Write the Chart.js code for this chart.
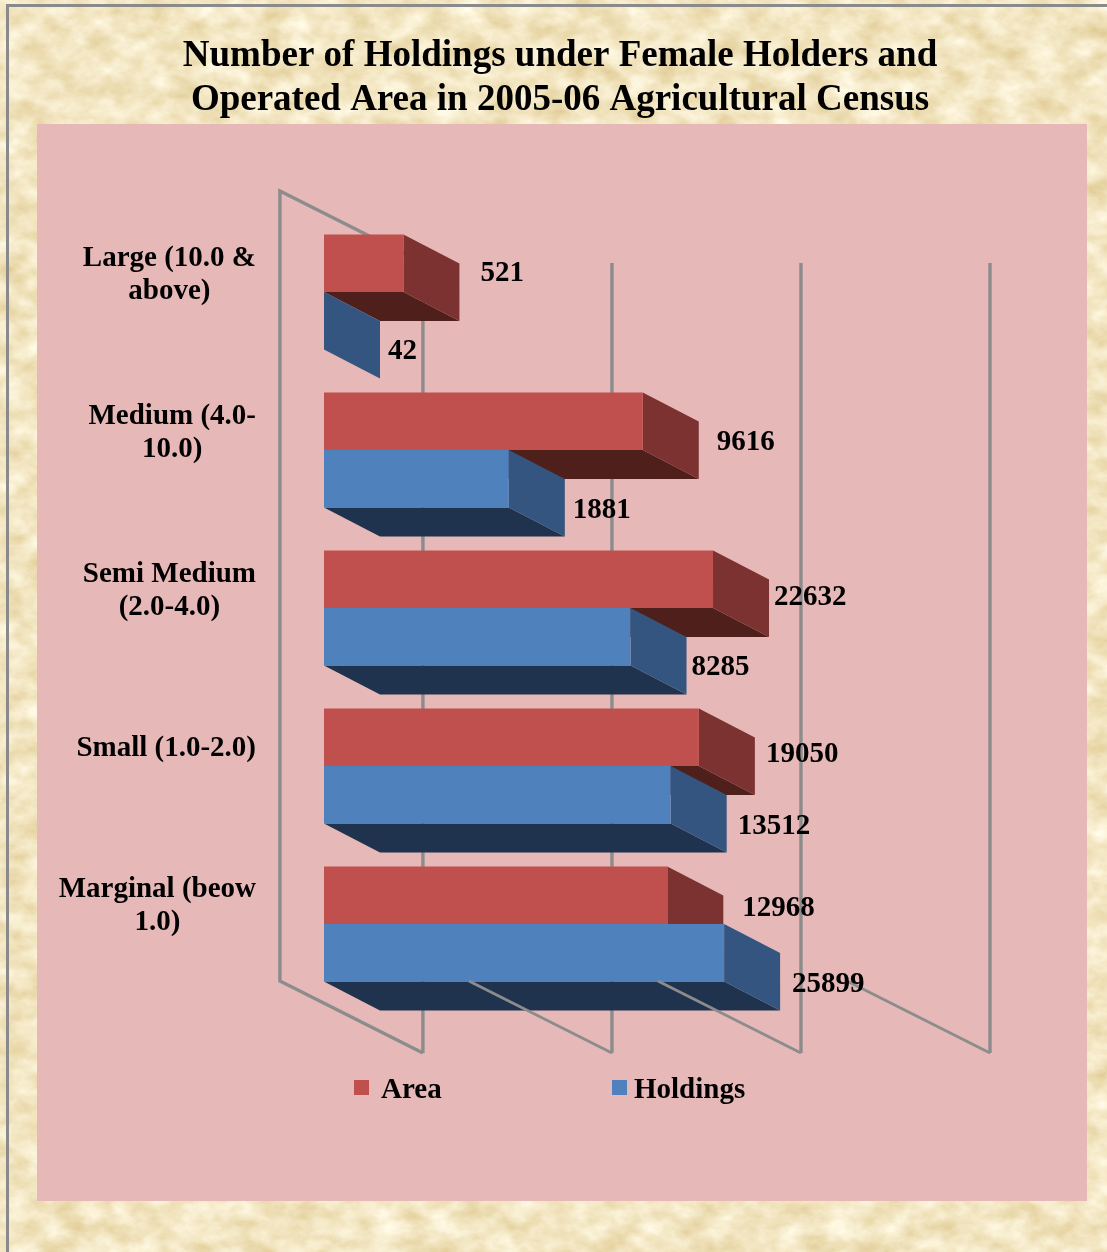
<!DOCTYPE html>
<html><head><meta charset="utf-8">
<style>
html,body{margin:0;padding:0;width:1107px;height:1252px;overflow:hidden;background:#f5e6c4}
#tex{position:absolute;left:0;top:0}
#frame{position:absolute;left:6px;top:4px;width:1101px;height:1248px;border-left:3px solid #8a8a8a;border-top:3px solid #8a8a8a;box-sizing:border-box}
#panel{position:absolute;left:37px;top:124px;width:1050px;height:1077px;background:#e6b8b7}
#c{position:absolute;left:13px;top:0}
</style>
<script src="https://cdn.jsdelivr.net/npm/chart.js@4"></script>
</head><body>
<svg id="tex" width="1107" height="1252" xmlns="http://www.w3.org/2000/svg">
<filter id="f" x="0" y="0" width="100%" height="100%" color-interpolation-filters="sRGB">
<feTurbulence type="fractalNoise" baseFrequency="0.035 0.05" numOctaves="5" seed="7"/>
<feColorMatrix type="matrix" values="0.16 0 0 0 0.87  0.24 0 0 0 0.78  0.42 0 0 0 0.55  0 0 0 0 1"/>
</filter>
<rect width="1107" height="1252" filter="url(#f)"/>
</svg>
<div id="frame"></div>
<div id="panel"></div>
<canvas id="c" width="1094" height="1252"></canvas>
<script>
const titleLines = ['Number of Holdings under Female Holders and','Operated Area in 2005-06 Agricultural Census'];
const categories = ['Marginal (beow 1.0)','Small (1.0-2.0)','Semi Medium (2.0-4.0)','Medium (4.0-10.0)','Large (10.0 & above)'];
const categoryLines = [['Marginal (beow','1.0)'],['Small (1.0-2.0)'],['Semi Medium','(2.0-4.0)'],['Medium (4.0-','10.0)'],['Large (10.0 &','above)']];
const areaValues = [12968,19050,22632,9616,521];
const holdingValues = [25899,13512,8285,1881,42];
const gridValues = [100,1000,10000,100000];

const FONT = 'bold 29px "Liberation Serif"';
const DX = 56, DY = 29;            // 3D depth of the bars
const WALL_FRONT = 12, WALL_BACK = 155; // wall offsets from the scale
const faceColors = [{side:'#7d3232',bottom:'#4f1f1b'},{side:'#34557f',bottom:'#1f334e'}];
const labelNudge = [
  [[19,13],[11,17],[5,18],[18,21],[21,10]],
  [[12,32],[11,32],[5,31],[8,32],[8,31]]
];
const legendItems = [{box:341,text:368,i:0},{box:599,text:621,i:1}];

const depth3d = {
  id:'depth3d',
  beforeDatasetsDraw(chart){
    const {ctx,chartArea:a,scales:{x}} = chart;
    ctx.save();
    ctx.strokeStyle='#8c8c8c'; ctx.lineWidth=3.4;
    gridValues.forEach((v,i)=>{
      const px = x.getPixelForValue(v);
      const back = px+WALL_BACK, front = px+WALL_FRONT;
      ctx.beginPath();
      ctx.moveTo(back,a.top+50); ctx.lineTo(back,a.bottom+50); ctx.stroke();
      if(i===0){
        ctx.beginPath();
        ctx.moveTo(back,a.top+50); ctx.lineTo(front,a.top-22); ctx.lineTo(front,a.bottom-22); ctx.lineTo(back,a.bottom+50);
        ctx.stroke();
      }
    });
    chart.data.datasets.forEach((ds,d)=>{
      const meta = chart.getDatasetMeta(d);
      const order = meta.data.map((_,i)=>i).reverse();
      order.forEach(i=>{
        const el = meta.data[i], h = el.height/2;
        const x0 = a.left, x1 = Math.max(el.x,a.left), t = el.y-h, b = el.y+h;
        ctx.fillStyle = faceColors[d].bottom;
        ctx.beginPath(); ctx.moveTo(x0,b); ctx.lineTo(x0+DX,b+DY); ctx.lineTo(x1+DX,b+DY); ctx.lineTo(x1,b); ctx.closePath(); ctx.fill();
        ctx.fillStyle = faceColors[d].side;
        ctx.beginPath(); ctx.moveTo(x1,t); ctx.lineTo(x1+DX,t+DY); ctx.lineTo(x1+DX,b+DY); ctx.lineTo(x1,b); ctx.closePath(); ctx.fill();
      });
    });
    ctx.restore();
  },
  afterDatasetsDraw(chart){
    const {ctx,chartArea:a,scales:{x,y}} = chart;
    ctx.save();
    ctx.strokeStyle='#8c8c8c'; ctx.lineWidth=2.8;
    gridValues.slice(1).forEach(v=>{
      const px = x.getPixelForValue(v);
      ctx.beginPath(); ctx.moveTo(px+WALL_FRONT,a.bottom-22); ctx.lineTo(px+WALL_BACK,a.bottom+50); ctx.stroke();
    });
    ctx.fillStyle='#000'; ctx.font=FONT; ctx.textBaseline='middle';
    ctx.textAlign='center';
    categoryLines.forEach((lines,i)=>{
      const w = Math.max(...lines.map(s=>ctx.measureText(s).width));
      const cx = a.left-68-w/2, cy = y.getPixelForValue(i)-17.5;
      lines.forEach((s,k)=>ctx.fillText(s,cx,cy+(k-(lines.length-1)/2)*33));
    });
    ctx.textAlign='left';
    chart.data.datasets.forEach((ds,d)=>{
      const meta = chart.getDatasetMeta(d);
      meta.data.forEach((el,i)=>{
        const x1 = Math.max(el.x,a.left);
        ctx.fillText(String(ds.data[i]),x1+DX+labelNudge[d][i][0],el.y+labelNudge[d][i][1]);
      });
    });
    legendItems.forEach(it=>{
      const ds = chart.data.datasets[it.i];
      ctx.fillStyle=ds.backgroundColor; ctx.fillRect(it.box,1080,15,15);
      ctx.fillStyle='#000'; ctx.fillText(ds.label,it.text,1091);
    });
    ctx.restore();
  }
};

const hiddenAxis = {ticks:{display:false},grid:{display:false},border:{display:false}};
new Chart(document.getElementById('c'),{
  type:'bar',
  plugins:[depth3d],
  data:{labels:categories,datasets:[
    {label:'Area',data:areaValues,backgroundColor:'#c0504d',borderWidth:0},
    {label:'Holdings',data:holdingValues,backgroundColor:'#4f81bd',borderWidth:0}
  ]},
  options:{
    indexAxis:'y',responsive:false,animation:false,devicePixelRatio:1,
    layout:{padding:{left:0,right:0,top:0,bottom:249}},
    datasets:{bar:{barPercentage:1,categoryPercentage:0.728}},
    scales:{
      x:{type:'logarithmic',min:198,max:100000,display:false},
      y:{reverse:true,...hiddenAxis,afterFit(s){s.width=311;}},
      yr:{type:'linear',position:'right',...hiddenAxis,afterFit(s){s.width=272;}}
    },
    plugins:{
      legend:{display:false},tooltip:{enabled:false},
      title:{display:true,text:titleLines,color:'#000',font:{family:'"Liberation Serif"',size:37,weight:'bold',lineHeight:1.19},padding:{top:34,bottom:91}}
    }
  }
});
</script>
</body></html>
